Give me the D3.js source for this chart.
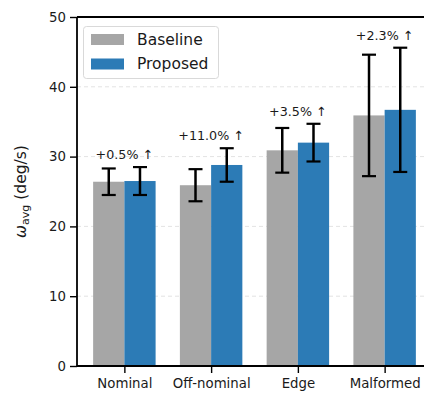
<!DOCTYPE html>
<html>
<head>
<meta charset="utf-8">
<script src="https://cdn.jsdelivr.net/npm/d3@7"></script>
<style>
  html, body { margin: 0; padding: 0; background: #fff; }
  svg { display: block; font-family: "DejaVu Sans", sans-serif; }
</style>
</head>
<body>
<svg id="chart" width="424" height="396"></svg>
<script>
// Angular rate per test condition, baseline vs proposed controller
const categories = ["Nominal", "Off-nominal", "Edge", "Malformed"];
const baselineMean = [26.4, 25.9, 30.9, 35.9];
const baselineErr  = [1.9, 2.3, 3.2, 8.7];
const proposedMean = [26.5, 28.8, 32.0, 36.7];
const proposedErr  = [2.0, 2.4, 2.7, 8.9];
const changeLabels = ["+0.5% \u2191", "+11.0% \u2191", "+3.5% \u2191", "+2.3% \u2191"];
const yTicks = [0, 10, 20, 30, 40, 50];
const seriesNames = ["Baseline", "Proposed"];

(function () {
  const colors = { Baseline: "#a6a6a6", Proposed: "#2c7bb6" };
  const barW = 0.36;

  const svg = d3.select("#chart");
  const pl = 77, pt = 17, pb = 366, pr = 432;

  const x = d3.scaleLinear().domain([-0.546, 3.546]).range([pl, pr]);
  const y = d3.scaleLinear().domain([0, 50]).range([pb, pt]);

  // grid
  svg.append("g").selectAll("line").data(yTicks.filter(t => t > 0 && t < 50)).join("line")
    .attr("x1", pl).attr("x2", pr)
    .attr("y1", d => y(d)).attr("y2", d => y(d))
    .attr("stroke", "#e3e3e3").attr("stroke-width", 1)
    .attr("stroke-dasharray", "4,3");

  const rows = categories.map((c, i) => ({
    i, c,
    b: baselineMean[i], be: baselineErr[i],
    p: proposedMean[i], pe: proposedErr[i],
    label: changeLabels[i]
  }));

  // bars
  const g = svg.append("g");
  g.selectAll("rect.base").data(rows).join("rect").attr("class", "base")
    .attr("x", d => x(d.i - barW)).attr("width", x(barW) - x(0))
    .attr("y", d => y(d.b)).attr("height", d => y(0) - y(d.b))
    .attr("fill", colors.Baseline);
  g.selectAll("rect.prop").data(rows).join("rect").attr("class", "prop")
    .attr("x", d => x(d.i)).attr("width", x(barW) - x(0))
    .attr("y", d => y(d.p)).attr("height", d => y(0) - y(d.p))
    .attr("fill", colors.Proposed);

  // error bars
  const errs = [];
  rows.forEach(d => {
    errs.push({ cx: d.i - barW / 2, m: d.b, e: d.be });
    errs.push({ cx: d.i + barW / 2, m: d.p, e: d.pe });
  });
  const eg = svg.append("g").attr("stroke", "#000").attr("stroke-width", 2.5);
  errs.forEach(e => {
    const cx = x(e.cx), y1 = y(e.m + e.e), y0 = y(e.m - e.e);
    eg.append("line").attr("x1", cx).attr("x2", cx).attr("y1", y1).attr("y2", y0);
    eg.append("line").attr("x1", cx - 7).attr("x2", cx + 7).attr("y1", y1).attr("y2", y1).attr("stroke-width", 2.2);
    eg.append("line").attr("x1", cx - 7).attr("x2", cx + 7).attr("y1", y0).attr("y2", y0).attr("stroke-width", 2.2);
  });

  // change annotations
  svg.append("g").selectAll("text").data(rows).join("text")
    .attr("x", d => x(d.i))
    .attr("y", d => y(Math.max(d.b + d.be, d.p + d.pe)) - 8)
    .attr("text-anchor", "middle")
    .attr("font-size", 12.7)
    .attr("fill", "#1a1a1a")
    .text(d => d.label);

  // axes
  const yAxis = d3.axisLeft(y).tickValues(yTicks).tickSize(7).tickPadding(4);
  const ya = svg.append("g").attr("transform", `translate(${pl},0)`).call(yAxis);
  const xAxis = d3.axisBottom(x).tickValues(categories.map((c, i) => i))
    .tickFormat(i => categories[i]).tickSize(7).tickPadding(6);
  const xa = svg.append("g").attr("transform", `translate(0,${pb})`).call(xAxis);
  [ya, xa].forEach(a => {
    a.select(".domain").remove();
    a.selectAll(".tick line").attr("stroke", "#000").attr("stroke-width", 1.4);
    a.selectAll(".tick text").attr("font-size", 13.3).attr("fill", "#1a1a1a")
      .attr("font-family", "DejaVu Sans, sans-serif");
  });

  // spines
  const sp = svg.append("g").attr("stroke", "#000").attr("stroke-width", 1.8).attr("fill", "none");
  sp.append("line").attr("x1", pl).attr("x2", pl).attr("y1", pt).attr("y2", pb);
  sp.append("line").attr("x1", pl).attr("x2", pr).attr("y1", pt).attr("y2", pt);
  sp.append("line").attr("x1", pl).attr("x2", pr).attr("y1", pb).attr("y2", pb);

  // y label
  const yl = svg.append("text")
    .attr("transform", `translate(26,${(pt + pb) / 2}) rotate(-90)`)
    .attr("text-anchor", "middle").attr("font-size", 15.5).attr("fill", "#1a1a1a");
  yl.append("tspan").attr("font-style", "italic").text("\u03c9");
  yl.append("tspan").attr("font-size", 11).attr("dy", 3).text("avg");
  yl.append("tspan").attr("dy", -3).text(" (deg/s)");

  // legend
  const lg = svg.append("g");
  lg.append("rect").attr("x", 83.5).attr("y", 26.5).attr("width", 135).attr("height", 52)
    .attr("rx", 3).attr("fill", "#fff").attr("fill-opacity", 0.85)
    .attr("stroke", "#d9d9d9").attr("stroke-width", 1);
  seriesNames.forEach((s, k) => {
    const yy = 34 + k * 24.5;
    lg.append("rect").attr("x", 91).attr("y", yy).attr("width", 33).attr("height", 11).attr("fill", colors[s]);
    lg.append("text").attr("x", 137).attr("y", yy + 10.5).attr("font-size", 15.5).attr("fill", "#1a1a1a").text(s);
  });
})();
</script>
</body>
</html>
